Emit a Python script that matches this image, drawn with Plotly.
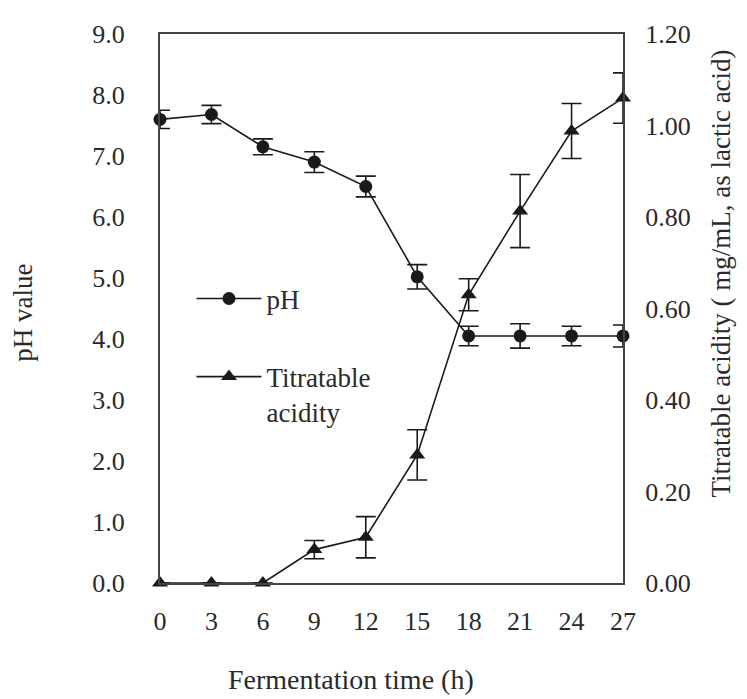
import plotly.graph_objects as go

time_h = [0, 3, 6, 9, 12, 15, 18, 21, 24, 27]
ph = [7.6, 7.68, 7.15, 6.9, 6.5, 5.02, 4.05, 4.05, 4.05, 4.05]
ph_err = [0.15, 0.15, 0.13, 0.17, 0.17, 0.2, 0.16, 0.2, 0.16, 0.18]
acid = [0.0, 0.0, 0.0, 0.073, 0.10, 0.28, 0.63, 0.813, 0.988, 1.06]
acid_err = [0.0, 0.0, 0.0, 0.02, 0.045, 0.055, 0.035, 0.08, 0.06, 0.055]

ph_ticks = [0, 1, 2, 3, 4, 5, 6, 7, 8, 9]
ph_ticktext = [f"{v:.1f}" for v in ph_ticks]
acid_ticks = [0, 0.2, 0.4, 0.6, 0.8, 1.0, 1.2]
acid_ticktext = [f"{v:.2f}" for v in acid_ticks]

FONT = "Liberation Serif"
INK = "#1a1a1a"
TXT = "#2a2a2a"

fig = go.Figure()
fig.add_trace(go.Scatter(
    x=time_h, y=ph, name="pH", mode="lines+markers",
    line=dict(color=INK, width=1.6),
    marker=dict(symbol="circle", size=13, color=INK),
    error_y=dict(type="data", array=ph_err, visible=True, color=INK, thickness=1.6, width=10),
    cliponaxis=False, legendgroup="a",
))
fig.add_trace(go.Scatter(
    x=time_h, y=acid, name="Titratable<br>acidity", mode="lines+markers", yaxis="y2",
    line=dict(color=INK, width=1.6),
    marker=dict(symbol="triangle-up", size=14, color=INK),
    error_y=dict(type="data", array=acid_err, visible=True, color=INK, thickness=1.6, width=10),
    cliponaxis=False, legendgroup="b",
))

axis_common = dict(showgrid=False, zeroline=False, showline=True,
                   linecolor="#444444", linewidth=2, ticks="",
                   tickfont=dict(size=26, color=TXT))

fig.update_layout(
    width=739, height=691,
    margin=dict(l=152, r=124, t=20, b=116),
    paper_bgcolor="white", plot_bgcolor="white",
    font=dict(family=FONT, size=26, color=TXT),
    xaxis=dict(range=[0, 27], tickvals=time_h, ticktext=[str(t) for t in time_h],
               mirror=True, ticklabelstandoff=14, **axis_common),
    yaxis=dict(range=[0, 9], tickvals=ph_ticks, ticktext=ph_ticktext,
               ticklabelstandoff=28, **axis_common),
    yaxis2=dict(range=[0, 1.2], tickvals=acid_ticks, ticktext=acid_ticktext,
                overlaying="y", side="right", ticklabelstandoff=15, **axis_common),
    legend=dict(
        x=0.068, y=0.562, xanchor="left", yanchor="top", valign="top",
        bgcolor="rgba(0,0,0,0)", font=dict(size=27, color=TXT),
        tracegroupgap=40, itemwidth=65,
    ),
    showlegend=True,
    annotations=[
        dict(text="Fermentation time (h)", xref="paper", yref="paper",
             x=0.4125, y=-0.1766, xanchor="center", yanchor="middle",
             showarrow=False, font=dict(size=28, color=TXT)),
        dict(text="pH value", xref="paper", yref="paper",
             x=-0.296, y=0.492, xanchor="center", yanchor="middle", textangle=-90,
             showarrow=False, font=dict(size=27, color=TXT)),
        dict(text="Titratable acidity ( mg/mL, as lactic acid)", xref="paper", yref="paper",
             x=1.212, y=0.564, xanchor="center", yanchor="middle", textangle=-90,
             showarrow=False, font=dict(size=27, color=TXT)),
    ],
)

fig.write_html("out.html")
